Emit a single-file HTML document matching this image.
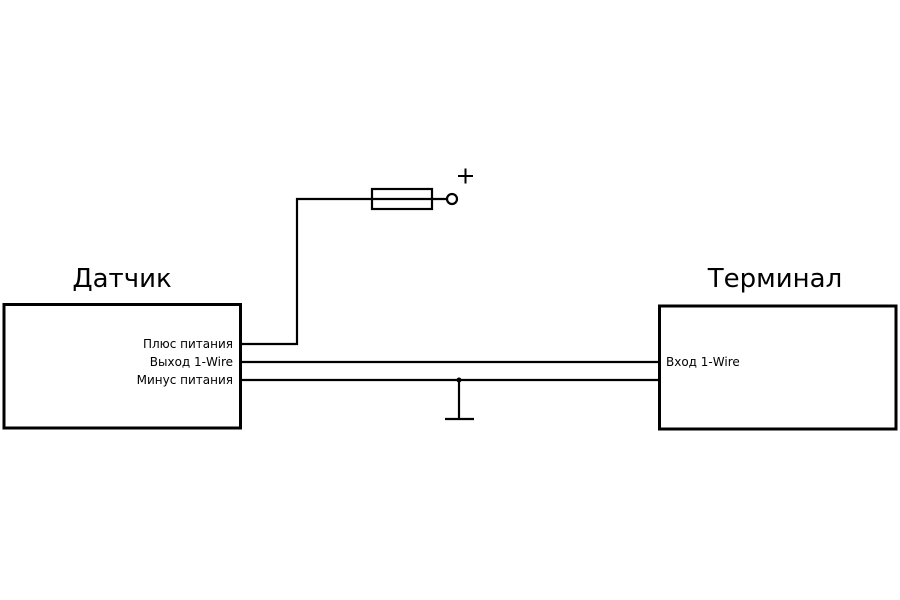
<!DOCTYPE html>
<html><head><meta charset="utf-8"><style>body{margin:0;background:#fff}</style></head>
<body>
<svg width="900" height="600" xmlns="http://www.w3.org/2000/svg" style="display:block">
<rect width="900" height="600" fill="#fff"/>
<g fill="none" stroke="#000">
<rect x="4" y="304.5" width="236.5" height="123.5" stroke-width="3"/>
<rect x="659.5" y="306" width="236.5" height="123" stroke-width="3"/>
<g stroke-width="2.2">
<polyline points="241,344 297,344 297,199 372,199"/>
<rect x="372" y="189" width="60" height="20"/>
<line x1="372" y1="199" x2="447" y2="199"/>
<circle cx="452" cy="199" r="5"/>
<line x1="241" y1="362" x2="659" y2="362"/>
<line x1="241" y1="380" x2="659" y2="380"/>
<line x1="459" y1="380" x2="459" y2="419"/>
<line x1="445" y1="419" x2="474" y2="419"/>
</g>
<line x1="458" y1="176" x2="473" y2="176" stroke-width="2"/>
<line x1="465.5" y1="168.5" x2="465.5" y2="183.5" stroke-width="2"/>
</g>
<circle cx="459" cy="380" r="2.5" fill="#000"/>
<g font-family="DejaVu Sans, Liberation Sans, sans-serif" fill="#000">
<text x="122" y="287" font-size="26" text-anchor="middle">Датчик</text>
<text x="775" y="287" font-size="26" text-anchor="middle">Терминал</text>
<g font-size="12" text-anchor="end">
<text x="233" y="348">Плюс питания</text>
<text x="233" y="366">Выход 1-Wire</text>
<text x="233" y="384">Минус питания</text>
</g>
<text x="666" y="366" font-size="12">Вход 1-Wire</text>
</g>
</svg>
</body></html>
